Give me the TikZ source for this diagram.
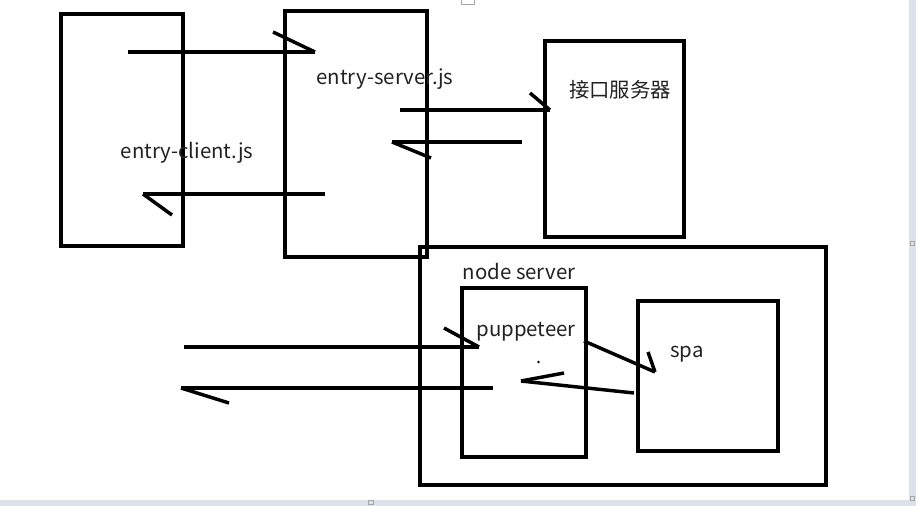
\documentclass[tikz,border=0pt]{standalone}
\usepackage{fontspec}
\setmainfont{Noto Sans CJK SC}
\usetikzlibrary{fit}
\definecolor{txt}{HTML}{222222}
\definecolor{chrome}{HTML}{DDE2EA}
\begin{document}
\begin{tikzpicture}[x=0.75pt,y=-0.75pt,
  box/.style={draw=black, line width=2.4pt, inner sep=0pt, fill=none},
  lbl/.style={text=txt, font=\fontsize{15.3pt}{18pt}\selectfont, inner sep=0pt},
  stroke/.style={draw=black, line width=2.6pt, line cap=butt}]
\useasboundingbox (0,0) rectangle (916,506);
\fill[white] (0,0) rectangle (916,506);
% screenshot chrome
\fill[chrome] (0,500) rectangle (916,506);
\fill[chrome] (909,0) rectangle (916,506);
\draw[gray!70, line width=0.5pt] (461,-1) rectangle (474,4);
\draw[gray!70, line width=0.5pt] (368,500.5) rectangle (373,504.5);
\draw[gray!70, line width=0.5pt] (910,241) rectangle (914,245);
\draw[gray!70, line width=0.5pt] (910,496) rectangle (914,500);

% boxes
\node[box, fit={(61,14) (183,246)}] (client) {};
\node[box, fit={(285,11) (427,257)}] (server) {};
\node[box, fit={(545,41) (684,237)}] (api) {};
\node[box, fit={(420,247) (826,485)}] (node) {};
\node[box, fit={(462,288) (586,457)}] (pup) {};
\node[box, fit={(638,301) (778,451)}] (spa) {};

% labels
\node[lbl] (tclient) at (187,153) {entry-client.js};
\node[lbl] (tserver) at (385,79) {entry-server.js};
\node[lbl] (tapi) at (620,90) {接口服务器};
\node[lbl] (tnode) at (519,272) {node server};
\node[lbl] (tpup) at (526,332) {puppeteer};
\node[lbl] (tspa) at (687,354) {spa};
\fill[black] (538.5,362) circle (1.3);

% arrow 1: client -> server
\coordinate (a1s) at (128,52); \coordinate (a1e) at (315,52); \coordinate (a1b) at (273,32);
\draw[stroke] (a1s) -- (a1e);
\draw[stroke] (a1b) -- (a1e);
% arrow 2: server -> client
\coordinate (a2s) at (325,194); \coordinate (a2e) at (143,194); \coordinate (a2b) at (172,215);
\draw[stroke] (a2s) -- (a2e);
\draw[stroke] (a2e) -- (a2b);
% arrow 3: server -> api
\coordinate (a3s) at (400,110); \coordinate (a3e) at (550,110); \coordinate (a3b) at (530,93);
\draw[stroke] (a3s) -- (a3e);
\draw[stroke] (a3b) -- (a3e);
% arrow 4: api -> server
\coordinate (a4s) at (522,142); \coordinate (a4e) at (392,142); \coordinate (a4b) at (431,158);
\draw[stroke] (a4s) -- (a4e);
\draw[stroke] (a4e) -- (a4b);
% arrow 5: outside -> puppeteer
\coordinate (a5s) at (184,347); \coordinate (a5e) at (479,347); \coordinate (a5b) at (444,328);
\draw[stroke] (a5s) -- (a5e);
\draw[stroke] (a5b) -- (a5e);
% arrow 6: puppeteer -> outside
\coordinate (a6s) at (493,388); \coordinate (a6e) at (181,388); \coordinate (a6b) at (229,403);
\draw[stroke] (a6s) -- (a6e);
\draw[stroke] (a6e) -- (a6b);
% arrow 7: puppeteer -> spa
\coordinate (a7s) at (584,341); \coordinate (a7e) at (655,372); \coordinate (a7b) at (648,352);
\draw[stroke] (a7s) -- (a7e);
\draw[stroke] (a7b) -- (a7e);
% arrow 8: spa -> puppeteer
\coordinate (a8s) at (634,393); \coordinate (a8e) at (521,381); \coordinate (a8b) at (564,373);
\draw[stroke] (a8s) -- (a8e);
\draw[stroke] (a8e) -- (a8b);
\end{tikzpicture}
\end{document}
